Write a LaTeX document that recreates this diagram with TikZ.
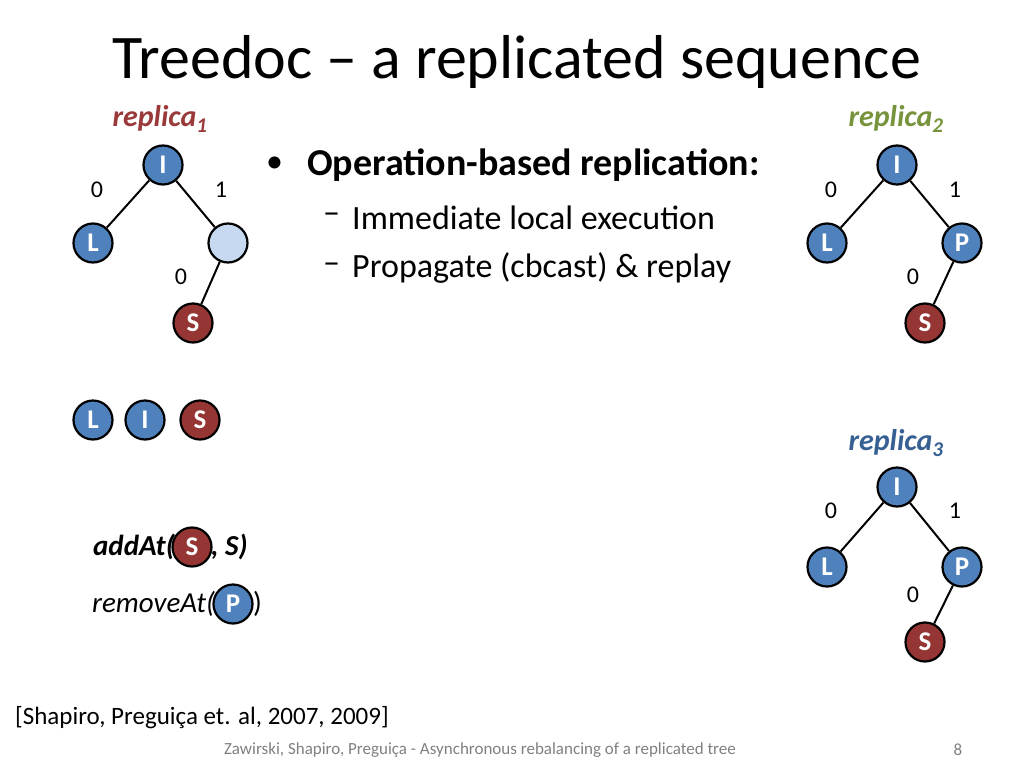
\documentclass[tikz,border=0pt]{standalone}
\usepackage{fontspec}
\setmainfont{Carlito}
\begin{document}
\begin{tikzpicture}[x=1pt,y=-1pt,
  nd/.style={circle,draw=black,line width=2.2pt,minimum size=39pt,inner sep=0pt,text=white,font=\fontsize{27}{27}\selectfont\bfseries},
  bl/.style={nd,fill={rgb,255:red,79;green,129;blue,189}},
  rd/.style={nd,fill={rgb,255:red,150;green,54;blue,52}},
  lt/.style={nd,fill={rgb,255:red,198;green,217;blue,240}},
  ed/.style={line width=2pt},
  lb/.style={font=\fontsize{24}{24}\selectfont},
  rep/.style={font=\fontsize{30}{30}\selectfont\bfseries\itshape},
  body/.style={font=\fontsize{34}{34}\selectfont,anchor=west,inner sep=0pt}]
\useasboundingbox (0,0) rectangle (1024,768);
\node[font=\fontsize{62}{62}\selectfont,anchor=west,inner sep=0pt] (title) at (112,62) {Treedoc -- a replicated sequence};
% replica 1
\node[rep,text={rgb,255:red,154;green,57;blue,57}] (r1) at (160,119) {replica\textsubscript{1}};
\node[bl] (a1) at (163,165) {I};
\node[bl] (a2) at (93,243) {L};
\node[lt] (a3) at (228,243) {};
\node[rd] (a4) at (193,323) {S};
\draw[ed] (a1)--(a2); \draw[ed] (a1)--(a3); \draw[ed] (a3)--(a4);
\node[lb] (la1) at (97,190) {0}; \node[lb] (la2) at (221,190) {1}; \node[lb] (la3) at (181,277) {0};
% replica 2
\node[rep,text={rgb,255:red,119;green,147;blue,60}] (r2) at (896,119) {replica\textsubscript{2}};
\node[bl] (b1) at (897,165) {I};
\node[bl] (b2) at (827,243) {L};
\node[bl] (b3) at (962,243) {P};
\node[rd] (b4) at (925,323) {S};
\draw[ed] (b1)--(b2); \draw[ed] (b1)--(b3); \draw[ed] (b3)--(b4);
\node[lb] (lb1) at (831,190) {0}; \node[lb] (lb2) at (955,190) {1}; \node[lb] (lb3) at (913,277) {0};
% replica 3
\node[rep,text={rgb,255:red,55;green,96;blue,146}] (r3) at (896,443) {replica\textsubscript{3}};
\node[bl] (c1) at (897,487) {I};
\node[bl] (c2) at (827,567) {L};
\node[bl] (c3) at (962,567) {P};
\node[rd] (c4) at (925,642) {S};
\draw[ed] (c1)--(c2); \draw[ed] (c1)--(c3); \draw[ed] (c3)--(c4);
\node[lb] (lc1) at (831,511) {0}; \node[lb] (lc2) at (955,511) {1}; \node[lb] (lc3) at (913,595) {0};
% sequence
\node[bl] (s1) at (93,420) {L};
\node[bl] (s2) at (145,420) {I};
\node[rd] (s3) at (200,420) {S};
% operations
\node[font=\fontsize{29}{29}\selectfont\bfseries\itshape,anchor=east,inner sep=0pt] (op1) at (175,547) {addAt(};
\node[rd] (op1s) at (192,547) {S};
\node[font=\fontsize{29}{29}\selectfont\bfseries\itshape,anchor=west,inner sep=0pt] (op1e) at (211,547) {, S)};
\node[font=\fontsize{29}{29}\selectfont\itshape,anchor=east,inner sep=0pt] (op2) at (215,604) {removeAt(};
\node[bl] (op2p) at (233,604) {P};
\node[font=\fontsize{29}{29}\selectfont,anchor=west,inner sep=0pt] (op2e) at (253,604) {)};
% text
\node[body,font=\fontsize{34}{34}\selectfont] (bu) at (266,165) {•};
\node[body,font=\fontsize{38}{38}\selectfont\bfseries] (t1) at (307,165) {Operation-based replication:};
\node[body] (d2) at (323,218) {--};
\node[body] (t2) at (352,218) {Immediate local execution};
\node[body] (d3) at (323,268) {--};
\node[body] (t3) at (352,268) {Propagate (cbcast) \& replay};
\node[anchor=west,font=\fontsize{25}{25}\selectfont,inner sep=0pt] (cite) at (15,718) {[Shapiro, Preguiça et. al, 2007, 2009]};
\node[font=\fontsize{17}{17}\selectfont,text=gray] (foot) at (480,750) {Zawirski, Shapiro, Preguiça - Asynchronous rebalancing of a replicated tree};
\node[font=\fontsize{17}{17}\selectfont,text=gray] (pg) at (958,750) {8};
\end{tikzpicture}
\end{document}
